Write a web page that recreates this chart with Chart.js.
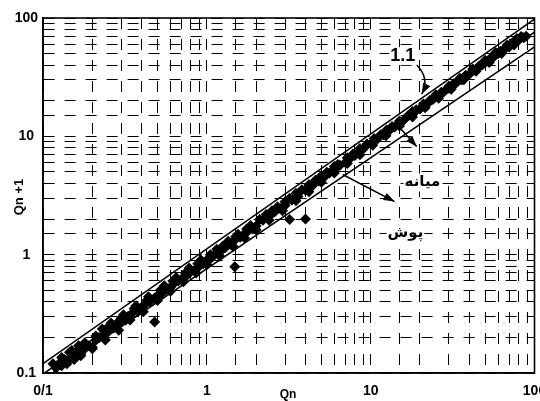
<!DOCTYPE html>
<html>
<head>
<meta charset="utf-8">
<script src="https://cdn.jsdelivr.net/npm/chart.js@4.4.0/dist/chart.umd.min.js"></script>
<style>
  html, body { margin: 0; padding: 0; background: #fff; }
  #wrap { width: 540px; height: 401px; }
</style>
</head>
<body>
<div id="wrap"><canvas id="flowChart"></canvas></div>
<script>
// observed flows, Qn against Qn+1
var qn = [
  0.12, 0.125, 0.13, 0.135, 0.14, 0.15, 0.155, 0.16, 0.17, 0.18, 0.19, 0.2, 0.21, 0.22, 0.24, 0.25,
  0.27, 0.28, 0.3, 0.32, 0.33, 0.35, 0.38, 0.4, 0.42, 0.45, 0.48, 0.5, 0.53, 0.56, 0.6, 0.63,
  0.67, 0.7, 0.75, 0.8, 0.85, 0.9, 0.95, 1.0, 1.05, 1.1, 1.2, 1.3, 1.4, 1.5, 1.6, 1.7,
  1.8, 1.9, 2.0, 2.2, 2.4, 2.6, 2.8, 3.0, 3.3, 3.6, 4.0, 4.4, 4.8, 5.2, 5.6, 6.0,
  6.5, 7.0, 7.5, 8.0, 8.5, 9.0, 10, 11, 12, 13, 14, 15, 16, 18, 20, 22,
  24, 26, 28, 30, 33, 36, 40, 44, 48, 52, 56, 60, 65, 70, 75, 80, 86,
  0.13, 0.15, 0.18, 0.21, 0.25, 0.3, 0.36, 0.43, 0.52, 0.62, 0.74, 0.88, 1.05, 1.25, 1.5, 1.75,
  2.1, 2.5, 3.0, 3.5, 4.2, 5.0, 6.0, 7.2, 8.6, 10.5, 12.5, 15, 18, 21, 25, 30,
  35, 42, 50, 58, 68, 78, 89,
  0.115, 0.145, 0.165, 0.23, 0.26, 0.31, 0.37, 0.44, 0.55, 0.65, 0.78, 0.92, 1.15, 1.35, 1.55, 1.85,
  2.3, 2.7, 3.2, 3.8, 4.6, 5.4, 6.3, 7.8, 9.5, 11.5, 13.5, 17, 19, 23, 27, 32,
  38, 46, 55, 62, 72, 83,
  0.14, 0.17, 0.2, 0.24, 0.29, 0.34, 0.41, 0.5, 0.6, 0.72, 0.86, 1.0, 1.2, 1.45, 1.7, 2.0,
  2.4, 2.9, 3.5, 4.2, 5.0, 6.0, 7.2, 8.6, 10.3, 12.4, 15, 18, 21.5, 26, 31, 37,
  44, 53, 63, 75,
  0.48, 1.48, 3.2, 4.0
];
var qn1 = [
  0.11, 0.12, 0.115, 0.13, 0.125, 0.14, 0.13, 0.15, 0.145, 0.16, 0.17, 0.165, 0.19, 0.2, 0.21, 0.23,
  0.24, 0.26, 0.27, 0.28, 0.3, 0.32, 0.33, 0.36, 0.38, 0.4, 0.43, 0.45, 0.47, 0.5, 0.53, 0.57,
  0.6, 0.62, 0.66, 0.72, 0.75, 0.8, 0.84, 0.9, 0.92, 0.98, 1.05, 1.15, 1.22, 1.35, 1.4, 1.5,
  1.6, 1.65, 1.75, 1.95, 2.1, 2.3, 2.45, 2.6, 2.9, 3.1, 3.5, 3.8, 4.2, 4.5, 4.9, 5.2,
  5.7, 6.0, 6.5, 6.9, 7.4, 7.8, 8.6, 9.5, 10.3, 11.2, 12, 12.8, 13.8, 15.2, 17, 18.6,
  20.5, 22, 23.8, 25.5, 28, 30, 33.5, 37, 40, 43, 46.5, 50, 54, 57, 61, 65, 68,
  0.135, 0.155, 0.18, 0.205, 0.245, 0.29, 0.35, 0.41, 0.5, 0.6, 0.7, 0.84, 1.0, 1.18, 1.42, 1.65,
  1.98, 2.35, 2.8, 3.3, 3.9, 4.65, 5.55, 6.6, 7.9, 9.6, 11.3, 13.5, 16.2, 18.8, 22.5, 26.5,
  31, 37, 44, 51, 59, 67, 70,
  0.12, 0.15, 0.17, 0.235, 0.265, 0.31, 0.37, 0.44, 0.545, 0.64, 0.77, 0.9, 1.11, 1.3, 1.49, 1.76,
  2.18, 2.54, 3.0, 3.54, 4.26, 4.97, 5.77, 7.1, 8.6, 10.3, 12.1, 15.1, 16.8, 20.2, 23.6, 27.8,
  32.8, 39.5, 47, 52.7, 60.8, 69.8,
  0.12, 0.14, 0.16, 0.19, 0.23, 0.28, 0.33, 0.41, 0.49, 0.59, 0.7, 0.82, 0.97, 1.17, 1.38, 1.62,
  1.95, 2.35, 2.85, 3.4, 4.1, 4.9, 5.9, 7.0, 8.4, 10.1, 12.2, 14.6, 17.4, 21, 25, 30,
  35.5, 42, 50, 59,
  0.27, 0.79, 1.98, 2.0
];

// reference lines
var upperQn = [0.1, 100];
var upperQn1 = [0.12, 98];
var medianQn = [0.1, 100];
var medianQn1 = [0.098, 76];
var lowerQn = [0.1, 100];
var lowerQn1 = [0.088, 57];

var xTickLabels = { 0.1: '0/1', 1: '1', 10: '10', 100: '100' };
var yTickLabels = { 0.1: '0.1', 1: '1', 10: '10', 100: '100' };

function pairs(xs, ys) {
  return xs.map(function(x, i) { return { x: x, y: ys[i] }; });
}

function pickLabel(map, v) {
  for (var k in map) {
    if (Math.abs(v - k) / k < 1e-6) return map[k];
  }
  return '';
}

var lineStyle = {
  type: 'line', showLine: true, pointRadius: 0, borderColor: '#000',
  borderWidth: 1.6, fill: false, tension: 0
};

// labels and arrows, given in data units
var notes = [
  { text: '1.1', x: 15.7, y: 47.6, font: 'bold 18px "Liberation Sans", Arial, sans-serif' },
  { text: 'میانه', x: 20.7, y: 4.07, font: 'bold 15px "DejaVu Sans", sans-serif' },
  { text: 'پوش', x: 16.3, y: 1.53, font: 'bold 15px "DejaVu Sans", sans-serif' }
];
var arrows = [
  { from: [19.1, 40], ctrl: [23, 31], to: [20.5, 22.7] },
  { from: [15.0, 11.9], to: [19.1, 8.2] },
  { from: [6.75, 4.76], to: [14.0, 2.81] }
];

function drawHead(ctx, x1, y1, x2, y2) {
  var a = Math.atan2(y2 - y1, x2 - x1);
  var len = 11, w = 4;
  ctx.beginPath();
  ctx.moveTo(x2, y2);
  ctx.lineTo(x2 - len * Math.cos(a) + w * Math.sin(a), y2 - len * Math.sin(a) - w * Math.cos(a));
  ctx.lineTo(x2 - len * Math.cos(a) - w * Math.sin(a), y2 - len * Math.sin(a) + w * Math.cos(a));
  ctx.closePath();
  ctx.fill();
}

var extras = {
  id: 'extras',
  afterDatasetsDraw: function(chart) {
    var ctx = chart.ctx, a = chart.chartArea;
    var xs = chart.scales.x, ys = chart.scales.y;
    ctx.save();
    ctx.strokeStyle = '#000';
    ctx.fillStyle = '#000';
    ctx.lineWidth = 1.6;
    ctx.strokeRect(a.left, a.top, a.right - a.left, a.bottom - a.top);

    arrows.forEach(function(ar) {
      var x1 = xs.getPixelForValue(ar.from[0]), y1 = ys.getPixelForValue(ar.from[1]);
      var x2 = xs.getPixelForValue(ar.to[0]), y2 = ys.getPixelForValue(ar.to[1]);
      ctx.lineWidth = 1.5;
      ctx.beginPath();
      ctx.moveTo(x1, y1);
      if (ar.ctrl) {
        var cx = xs.getPixelForValue(ar.ctrl[0]), cy = ys.getPixelForValue(ar.ctrl[1]);
        ctx.quadraticCurveTo(cx, cy, x2, y2);
        ctx.stroke();
        drawHead(ctx, cx, cy, x2, y2);
      } else {
        ctx.lineTo(x2, y2);
        ctx.stroke();
        drawHead(ctx, x1, y1, x2, y2);
      }
    });

    ctx.textAlign = 'center';
    ctx.textBaseline = 'middle';
    notes.forEach(function(n) {
      ctx.font = n.font;
      var px = xs.getPixelForValue(n.x), py = ys.getPixelForValue(n.y);
      var w = ctx.measureText(n.text).width;
      ctx.fillStyle = '#fff';
      ctx.fillRect(px - w / 2 - 1, py - 9, w + 2, 18);
      ctx.fillStyle = '#000';
      ctx.fillText(n.text, px, py);
    });

    // axis titles
    ctx.font = 'bold 12px "Liberation Sans", Arial, sans-serif';
    ctx.fillText('Qn', 288, 395);
    ctx.translate(19, 197);
    ctx.rotate(-Math.PI / 2);
    ctx.font = 'bold 13px "Liberation Sans", Arial, sans-serif';
    ctx.fillText('Qn +1', 0, 0);
    ctx.restore();
  }
};

var tickFont = { family: '"Liberation Sans", Arial, sans-serif', size: 14, weight: 'bold' };

new Chart(document.getElementById('flowChart').getContext('2d'), {
  type: 'scatter',
  data: {
    datasets: [
      Object.assign({ data: pairs(upperQn, upperQn1) }, lineStyle),
      Object.assign({ data: pairs(medianQn, medianQn1) }, lineStyle),
      Object.assign({ data: pairs(lowerQn, lowerQn1) }, lineStyle),
      {
        data: pairs(qn, qn1),
        pointStyle: 'rectRot',
        pointRadius: 5.5,
        backgroundColor: '#000',
        borderColor: '#000',
        borderWidth: 0
      }
    ]
  },
  options: {
    responsive: true,
    maintainAspectRatio: false,
    animation: false,
    layout: { padding: { top: 18, right: 5, left: 0, bottom: 0 } },
    plugins: { legend: { display: false }, tooltip: { enabled: false } },
    scales: {
      x: {
        type: 'logarithmic', min: 0.1, max: 100,
        grid: { color: '#000', lineWidth: 1, drawTicks: false },
        border: { color: '#000', width: 1.6, dash: [11, 10] },
        ticks: {
          autoSkip: false, maxRotation: 0, color: '#000', font: tickFont, padding: 10,
          callback: function(v) { return pickLabel(xTickLabels, v); }
        },
        afterFit: function(s) { s.height = 28; s.paddingLeft = 0; s.paddingRight = 0; }
      },
      y: {
        type: 'logarithmic', min: 0.1, max: 100,
        grid: { color: '#000', lineWidth: 1, drawTicks: false },
        border: { color: '#000', width: 1.6, dash: [11, 10] },
        ticks: {
          autoSkip: false, color: '#000', font: tickFont, padding: 5, crossAlign: 'center',
          callback: function(v) { return pickLabel(yTickLabels, v); }
        },
        afterFit: function(s) { s.width = 43; s.paddingTop = 0; s.paddingBottom = 0; }
      }
    }
  },
  plugins: [extras]
});
</script>
</body>
</html>
